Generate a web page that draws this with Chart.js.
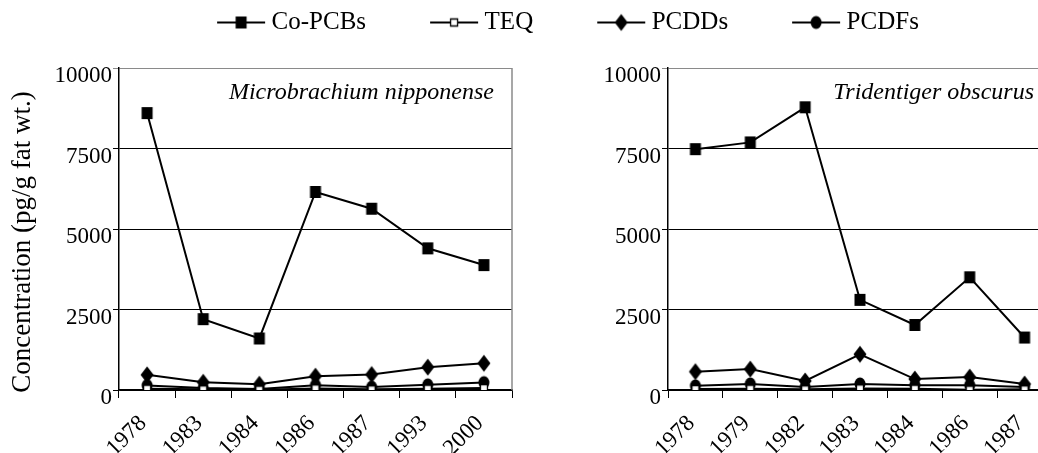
<!DOCTYPE html>
<html lang="en">
  <head>
    <title>Co-PCBs and dioxins</title>
    <meta charset="utf-8">
    <script type="text/javascript" src="https://cdn.jsdelivr.net/npm/chart.js@4/dist/chart.umd.min.js"></script>
    <style>
      body { margin: 0; width: 1038px; height: 453px; overflow: hidden; background: #fff; position: relative; }
      .box { position: absolute; }
    </style>
  </head>
  <body>
    <div class="box" style="left:52px; top:-60px; width:1038px; height:320px;"><canvas id="chart_legend"></canvas></div>
    <div class="box" style="left:0px; top:46px; width:520px; height:407px;"><canvas id="chart_left"></canvas></div>
    <div class="box" style="left:520px; top:46px; width:540px; height:407px;"><canvas id="chart_right"></canvas></div>

    <script language="javascript" type="text/javascript">

      // Microbrachium nipponense
      const leftYears   = ['1978', '1983', '1984', '1986', '1987', '1993', '2000'];
      const leftCoPCBs  = [8600, 2200, 1600, 6150, 5630, 4400, 3880];
      const leftTEQ     = [40, 20, 10, 50, 20, 40, 60];
      const leftPCDDs   = [470, 240, 180, 430, 480, 710, 830];
      const leftPCDFs   = [140, 60, 30, 150, 90, 160, 230];

      // Tridentiger obscurus
      const rightYears  = ['1978', '1979', '1982', '1983', '1984', '1986', '1987'];
      const rightCoPCBs = [7480, 7690, 8780, 2800, 2020, 3500, 1630];
      const rightTEQ    = [30, 40, 20, 50, 40, 10, 20];
      const rightPCDDs  = [570, 650, 280, 1110, 340, 400, 185];
      const rightPCDFs  = [130, 190, 90, 190, 150, 150, 90];

      const seriesNames = ['Co-PCBs', 'TEQ', 'PCDDs', 'PCDFs'];
      const yTitle = 'Concentration (pg/g fat wt.)';
      const yMax = 10000;
      const yStep = 2500;
      const serif = '"Liberation Serif", "Times New Roman", serif';

      // marker shapes drawn into small canvases, used as pointStyle
      function drawMarker(ctx, kind, cx, cy)
      {
        ctx.fillStyle = '#000';
        ctx.strokeStyle = '#000';
        ctx.beginPath();
        if( kind == 'square' )
          ctx.rect(cx - 5.5, cy - 6, 11, 12);
        else if( kind == 'open' ) {
          ctx.fillStyle = '#fff';
          ctx.lineWidth = 1.3;
          ctx.rect(cx - 3.5, cy - 3.5, 7, 7);
        }
        else if( kind == 'diamond' ) {
          ctx.moveTo(cx, cy - 8.5);
          ctx.lineTo(cx + 6.5, cy);
          ctx.lineTo(cx, cy + 8.5);
          ctx.lineTo(cx - 6.5, cy);
          ctx.closePath();
        }
        else
          ctx.ellipse(cx, cy, 5.5, 6.5, 0, 0, Math.PI * 2);
        ctx.fill();
        if( kind == 'open' ) ctx.stroke();
      }

      function markerCanvas(kind, withLine)
      {
        let c = document.createElement('canvas');
        c.width = withLine ? 50 : 16;
        c.height = 20;
        let ctx = c.getContext('2d');
        if( withLine ) {
          ctx.strokeStyle = '#000';
          ctx.lineWidth = 2;
          ctx.beginPath();
          ctx.moveTo(1, 10);
          ctx.lineTo(49, 10);
          ctx.stroke();
        }
        drawMarker(ctx, kind, c.width / 2, 10);
        return c;
      }

      const kinds = ['square', 'open', 'diamond', 'circle'];

      function makeDatasets(values)
      {
        return values.map((v, i) => ({
          label: seriesNames[i],
          data: v,
          borderColor: '#000',
          borderWidth: 2,
          pointStyle: markerCanvas(kinds[i], false),
          pointRadius: 6,
          pointHoverRadius: 6,
          tension: 0
        }));
      }

      // species name in the top right of the plot, the grey frame edge
      // and (left panel only) the y axis title, sitting a little low like the original
      const panelDecor = {
        id: 'panelDecor',
        afterDraw(chart, args, opts) {
          const a = chart.chartArea;
          const ctx = chart.ctx;
          ctx.save();
          ctx.strokeStyle = '#8a8a8a';
          ctx.lineWidth = 1.5;
          ctx.beginPath();
          ctx.moveTo(a.right, a.top);
          ctx.lineTo(a.right, a.bottom);
          ctx.stroke();
          ctx.font = 'italic 24px ' + serif;
          ctx.fillStyle = '#000';
          ctx.textAlign = 'right';
          ctx.textBaseline = 'middle';
          ctx.fillText(opts.text, a.right - 18, a.top + 25);
          if( opts.yTitle ) {
            ctx.translate(23, (a.top + a.bottom) / 2 + 13);
            ctx.rotate(-Math.PI / 2);
            ctx.textAlign = 'center';
            ctx.font = '27px ' + serif;
            ctx.fillText(opts.yTitle, 0, 0);
          }
          ctx.restore();
        }
      };

      function makeChart(id, years, values, species, yWidth, padRight, title)
      {
        return new Chart(id, {
          type: 'line',
          data: { labels: years, datasets: makeDatasets(values) },
          plugins: [panelDecor],
          options: {
            responsive: true,
            maintainAspectRatio: false,
            animation: false,
            layout: { padding: { top: 22, right: padRight, bottom: 0, left: 0 } },
            plugins: {
              legend: { display: false },
              tooltip: { enabled: false },
              panelDecor: { text: species, yTitle: title }
            },
            scales: {
              x: {
                offset: true,
                grid: { offset: true, drawOnChartArea: false, color: '#000', tickLength: 8, lineWidth: 1 },
                border: { color: '#000', width: 1.5 },
                ticks: {
                  color: '#000',
                  font: { family: serif, size: 23 },
                  minRotation: 45,
                  maxRotation: 45,
                  padding: 12,
                  labelOffset: -4
                },
                afterFit: (s) => { s.height = 63; }
              },
              y: {
                min: 0,
                max: yMax,
                grid: {
                  color: (c) => (c.tick && c.tick.value == yMax) ? '#8a8a8a' : '#000',
                  lineWidth: 1,
                  tickLength: 6
                },
                border: { color: '#000', width: 1.5 },
                ticks: {
                  stepSize: yStep,
                  color: '#000',
                  font: { family: serif, size: 23 },
                  padding: 1,
                  labelOffset: 8,
                  callback: (v) => String(v)
                },
                afterFit: (s) => { s.width = yWidth; }
              }
            }
          }
        });
      }

      chart_left = makeChart('chart_left', leftYears,
        [leftCoPCBs, leftTEQ, leftPCDDs, leftPCDFs], 'Microbrachium nipponense', 119, 2, yTitle);

      chart_right = makeChart('chart_right', rightYears,
        [rightCoPCBs, rightTEQ, rightPCDDs, rightPCDFs], 'Tridentiger obscurus', 148, 7, null);

      // Legend shared by both panels
      chart_legend = new Chart('chart_legend', {
        type: 'line',
        data: {
          labels: [],
          datasets: seriesNames.map((n, i) => ({
            label: n,
            data: [],
            borderColor: '#000',
            pointStyle: markerCanvas(kinds[i], true)
          }))
        },
        options: {
          responsive: true,
          maintainAspectRatio: false,
          animation: false,
          scales: { x: { display: false }, y: { display: false } },
          plugins: {
            tooltip: { enabled: false },
            legend: {
              position: 'top',
              labels: {
                usePointStyle: true,
                pointStyleWidth: 36,
                padding: 70,
                color: '#000',
                font: { family: serif, size: 25 }
              }
            }
          }
        }
      });
    </script>
  </body>
</html>
